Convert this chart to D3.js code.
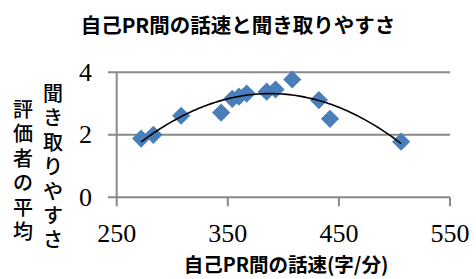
<!DOCTYPE html>
<html><head><meta charset="utf-8">
<script src="https://cdn.jsdelivr.net/npm/d3@7"></script>
<style>html,body{margin:0;padding:0;background:#fff;}svg{display:block;}</style>
</head><body>
<svg id="c" width="476" height="279"></svg>
<script>
const speeds = [272, 283, 308, 344, 354, 360, 367, 385, 393, 408, 432, 442, 506];
const ratings = [1.88, 2.0, 2.61, 2.71, 3.15, 3.22, 3.32, 3.38, 3.45, 3.77, 3.11, 2.51, 1.78];
const xTicks = [250, 350, 450, 550];
const yTicks = [0, 2, 4];
const title = "自己PR間の話速と聞き取りやすさ";
const xTitle = "自己PR間の話速(字/分)";
const yTitleCols = ["評価者の平均", "聞き取りやすさ"];

const svg = d3.select("#c");
const x = d3.scaleLinear().domain([250, 550]).range([116.7, 450]);
const y = d3.scaleLinear().domain([0, 4]).range([197.3, 72.3]);
const grid = "#898989";

svg.append("g").selectAll("line").data(yTicks).join("line")
  .attr("x1", 108).attr("x2", x(550))
  .attr("y1", d => y(d)).attr("y2", d => y(d))
  .attr("stroke", grid).attr("stroke-width", 2);
svg.append("line").attr("x1", x(250)).attr("x2", x(250))
  .attr("y1", y(4)).attr("y2", y(0)).attr("stroke", grid).attr("stroke-width", 2);
svg.append("g").selectAll("line").data(xTicks).join("line")
  .attr("x1", d => x(d)).attr("x2", d => x(d))
  .attr("y1", y(0)).attr("y2", y(0) + 9)
  .attr("stroke", grid).attr("stroke-width", 2);

const serif = "'Liberation Serif', 'Times New Roman', serif";
svg.append("g").selectAll("text").data(yTicks).join("text")
  .attr("x", 92).attr("y", d => y(d) + 8.5)
  .attr("text-anchor", "end").attr("font-family", serif).attr("font-size", 26)
  .text(d => d);
svg.append("g").selectAll("text").data(xTicks).join("text")
  .attr("x", d => x(d)).attr("y", 241.5)
  .attr("text-anchor", "middle").attr("font-family", serif).attr("font-size", 26)
  .text(d => d);

function polyfit2(xs, ys) {
  let S = [[0,0,0],[0,0,0],[0,0,0]], b = [0,0,0];
  xs.forEach((xv, i) => {
    const p = [1, xv, xv*xv];
    for (let r = 0; r < 3; r++) { b[r] += p[r]*ys[i]; for (let c = 0; c < 3; c++) S[r][c] += p[r]*p[c]; }
  });
  for (let i = 0; i < 3; i++) {
    for (let k = i+1; k < 3; k++) {
      const f = S[k][i]/S[i][i];
      for (let c = i; c < 3; c++) S[k][c] -= f*S[i][c];
      b[k] -= f*b[i];
    }
  }
  const coef = [0,0,0];
  for (let i = 2; i >= 0; i--) {
    let s = b[i];
    for (let c = i+1; c < 3; c++) s -= S[i][c]*coef[c];
    coef[i] = s/S[i][i];
  }
  return coef;
}
const cf = polyfit2(speeds, ratings);
const xmin = d3.min(speeds), xmax = d3.max(speeds);
const trend = d3.range(0, 101).map(i => {
  const xv = xmin + (xmax - xmin) * i / 100;
  return [xv, cf[0] + cf[1]*xv + cf[2]*xv*xv];
});

const sym = d3.symbol().type(d3.symbolSquare).size(165);
svg.append("g").selectAll("path").data(speeds).join("path")
  .attr("d", sym)
  .attr("transform", (d, i) => `translate(${x(d)},${y(ratings[i])}) rotate(45)`)
  .attr("fill", "#4a7ebb");

svg.append("path").datum(trend)
  .attr("d", d3.line().x(d => x(d[0])).y(d => y(d[1])))
  .attr("fill", "none").attr("stroke", "#000").attr("stroke-width", 1.6);

const jp = "'Noto Sans CJK JP', 'Noto Sans', sans-serif";
svg.append("text").attr("x", 238).attr("y", 32.5)
  .attr("text-anchor", "middle").attr("font-family", jp).attr("font-weight", "bold")
  .attr("font-size", 20.5).text(title);
svg.append("text").attr("x", 286).attr("y", 271.5)
  .attr("text-anchor", "middle").attr("font-family", jp).attr("font-weight", "bold")
  .attr("font-size", 19.5).text(xTitle);

// vertical y-axis title (two columns, one glyph per row)
const colX = [23, 53], colY0 = [117, 101];
yTitleCols.forEach((s, ci) => {
  const t = svg.append("text").attr("font-family", jp).attr("font-size", 20)
    .attr("font-weight", 500).attr("text-anchor", "middle");
  Array.from(s).forEach((ch, k) => {
    t.append("tspan").attr("x", colX[ci]).attr("y", colY0[ci] + k * 24.4).text(ch);
  });
});
</script>
</body></html>
